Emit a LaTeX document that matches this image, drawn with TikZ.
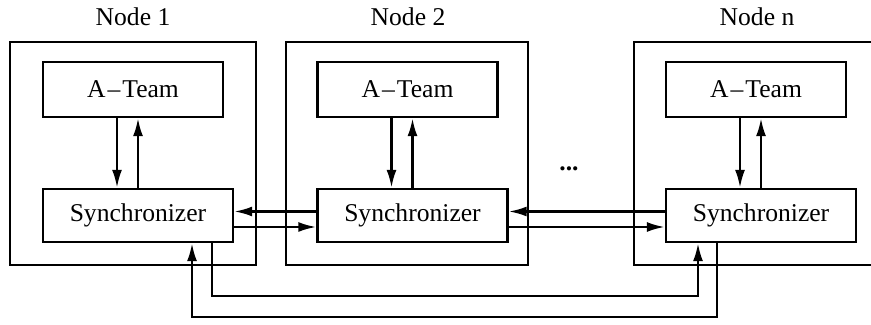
\documentclass[tikz,border=0pt]{standalone}
\usepackage{fontspec}
\setmainfont{Liberation Serif}
\usetikzlibrary{arrows.meta}
\tikzstyle{nodebox} = [rectangle, draw=black, line width=1.2pt, minimum height=111.5pt, inner sep=0pt]
\tikzstyle{teambox} = [rectangle, draw=black, line width=1.2pt, minimum width=90pt, minimum height=27.5pt, text centered]
\tikzstyle{syncbox} = [rectangle, draw=black, line width=1.2pt, minimum width=95pt, minimum height=26.5pt, text centered]
\tikzstyle{arrow} = [line width=1.2pt, -{Latex[length=9pt,width=5pt]}]

\begin{document}
\begin{tikzpicture}[x=0.5pt, y=-0.5pt, font=\fontsize{12.8}{15}\selectfont]
    \clip (0,0) rectangle (871,325);

    % Nodes
    \node (node1) [nodebox, minimum width=123pt] at (133,153.5) {};
    \node (node2) [nodebox, minimum width=121pt] at (407,153.5) {};
    \node (noden) [nodebox, minimum width=133pt] at (767,153.5) {};
    \node (title1) at (133,17) {Node 1};
    \node (title2) at (408,17) {Node 2};
    \node (titlen) at (757,17) {Node n};

    \node (team1) [teambox] at (133,89.5) {A\kern1pt--\kern1pt Team};
    \node (team2) [teambox] at (407.5,89.5) {A\kern1pt--\kern1pt Team};
    \node (teamn) [teambox] at (756,89.5) {A\kern1pt--\kern1pt Team};
    \node (sync1) [syncbox] at (138,215.5) {Synchronizer};
    \node (sync2) [syncbox] at (412.5,215.5) {Synchronizer};
    \node (syncn) [syncbox] at (761,215.5) {Synchronizer};
    \node (dots) at (569,169) {\bfseries ...};

    \coordinate (busa) at (0,296);
    \coordinate (busb) at (0,317);

    % Arrows
    \draw [arrow] ([xshift=-8pt]team1.south) -- ([xshift=-8pt]team1.south |- sync1.north);
    \draw [arrow] (sync1.north) -- (sync1.north |- team1.south);
    \draw [arrow] ([xshift=-8pt]team2.south) -- ([xshift=-8pt]team2.south |- sync2.north);
    \draw [arrow] (sync2.north) -- (sync2.north |- team2.south);
    \draw [arrow] ([xshift=-8pt]teamn.south) -- ([xshift=-8pt]teamn.south |- syncn.north);
    \draw [arrow] (syncn.north) -- (syncn.north |- teamn.south);

    \draw [arrow] ([yshift=2pt]sync2.west) -- ([yshift=2pt]sync1.east);
    \draw [arrow] ([yshift=-5.75pt]sync1.east) -- ([yshift=-5.75pt]sync2.west);
    \draw [arrow] ([yshift=2pt]syncn.west) -- ([yshift=2pt]sync2.east);
    \draw [arrow] ([yshift=-5.75pt]sync2.east) -- ([yshift=-5.75pt]syncn.west);

    \draw [arrow] ([xshift=36.85pt]sync1.south) |- ([xshift=-31.5pt]syncn.south |- busa) -- ([xshift=-31.5pt]syncn.south);
    \draw [arrow] ([xshift=-22pt]syncn.south) |- ([xshift=27pt]sync1.south |- busb) -- ([xshift=27pt]sync1.south);
\end{tikzpicture}
\end{document}
